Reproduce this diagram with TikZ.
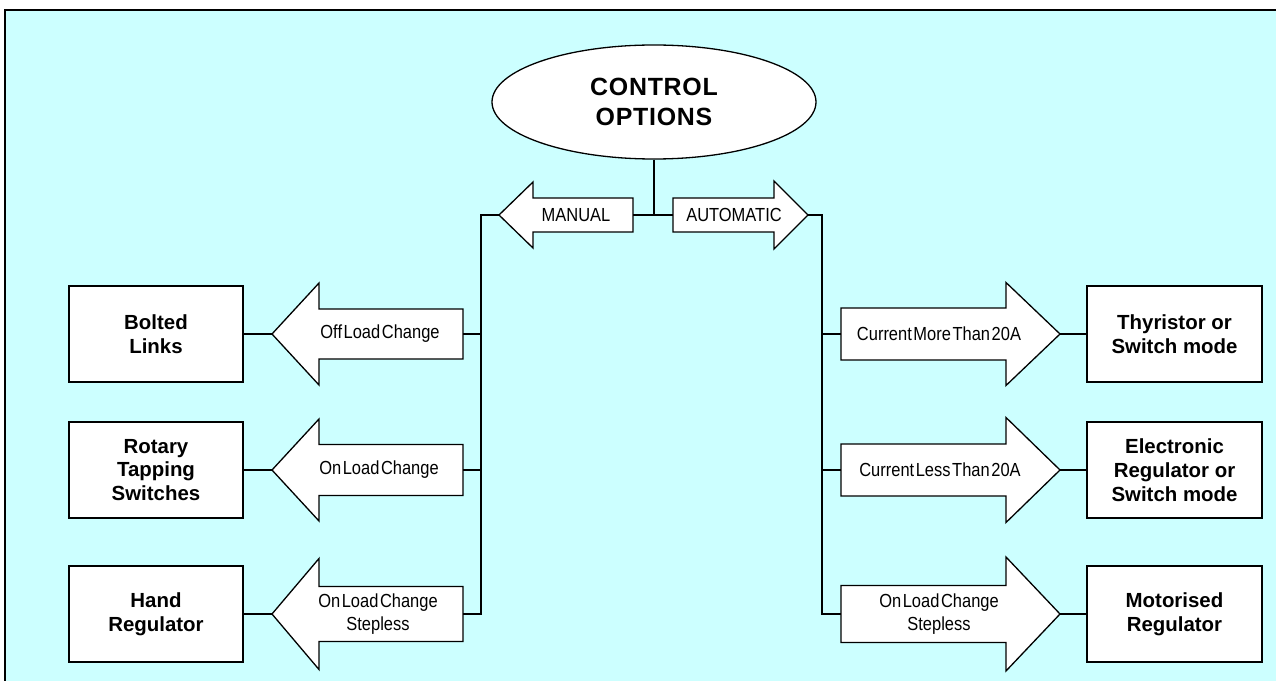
\documentclass[tikz,border=0pt]{standalone}
\usepackage{fontspec}
\setmainfont{Liberation Sans}
\newfontfamily\lblfont[WordSpace=0.35, FakeStretch=0.87]{Liberation Sans}
\newfontfamily\ttlfont[LetterSpace=3]{Liberation Sans}
\usetikzlibrary{shapes.geometric}

\definecolor{panel}{RGB}{204,255,255}

\tikzset{
  line/.style={draw=black, line width=1.3bp},
  box/.style={draw=black, line width=1.3bp, fill=white, minimum height=96bp,
    align=center, inner sep=0pt, font=\fontsize{20.5}{24}\selectfont\bfseries},
  arrowshape/.style={draw=black, line width=1.3bp, fill=white, line join=miter},
  lbl/.style={align=center, inner sep=0pt, font=\lblfont\fontsize{19}{23}\selectfont},
  title/.style={ellipse, draw=black, line width=1.3bp, fill=white,
    minimum width=324bp, minimum height=114bp, inner sep=0pt, align=center,
    font=\ttlfont\fontsize{25}{30}\selectfont\bfseries},
}

% Block arrow: #1 name, #2 tip x, #3 head back x, #4 tail x, #5 y,
% #6 half shaft height, #7 half head height
\newcommand\BlockArrow[7]{%
  \draw[arrowshape] (#2,#5) -- (#3,#5-#7) -- (#3,#5-#6) -- (#4,#5-#6)
    -- (#4,#5+#6) -- (#3,#5+#6) -- (#3,#5+#7) -- cycle;
  \coordinate (#1-tip) at (#2,#5);
  \coordinate (#1-end) at (#4,#5);
}

\begin{document}
\begin{tikzpicture}[x=1bp, y=-1bp]
  \useasboundingbox (0,0) rectangle (1276,681);
  \fill[white] (0,0) rectangle (1276,681);
  \fill[panel] (5,10) rectangle (1276,681);
  \draw[black, line width=2bp] (5,681) -- (5,10) -- (1276,10);

  % title
  \node[title] (ctrl) at (654,102) {CONTROL\\OPTIONS};

  % manual / automatic arrows
  \BlockArrow{man}{499}{533}{633}{215}{17}{33}
  \BlockArrow{auto}{808}{774}{673}{215}{17}{34}
  \node[lbl] (manl) at (576,215) {MANUAL};
  \node[lbl] (autol) at (734,215) {AUTOMATIC};

  \coordinate (hub) at (654,215);
  \coordinate (lbus) at (481,215);
  \coordinate (rbus) at (822,215);

  % manual branch arrows
  \BlockArrow{a1}{272}{319}{463}{334}{25}{51}
  \BlockArrow{a2}{272}{319}{463}{470}{25.5}{51}
  \BlockArrow{a3}{272}{319}{463}{614}{27.5}{55.5}
  \node[lbl] (a1l) at (380,334) {Off Load Change};
  \node[lbl] (a2l) at (379,470) {On Load Change};
  \node[lbl] (a3l) at (378,614) {On Load Change\\Stepless};

  % automatic branch arrows
  \BlockArrow{b1}{1060}{1006}{841}{334}{26}{51.5}
  \BlockArrow{b2}{1060}{1006}{841}{470}{26}{52.5}
  \BlockArrow{b3}{1060}{1006}{841}{614}{28.5}{57}
  \node[lbl] (b1l) at (939,334) {Current More Than 20A};
  \node[lbl] (b2l) at (940,470) {Current Less Than 20A};
  \node[lbl] (b3l) at (939,614) {On Load Change\\Stepless};

  % result boxes
  \node[box, minimum width=174bp] (bolted) at (156,334) {Bolted\\Links};
  \node[box, minimum width=174bp] (rotary) at (156,470) {Rotary\\Tapping\\Switches};
  \node[box, minimum width=174bp] (hand) at (156,614) {Hand\\Regulator};
  \node[box, minimum width=175bp] (thy) at (1174.5,334) {Thyristor or\\Switch mode};
  \node[box, minimum width=175bp] (elec) at (1174.5,470) {Electronic\\Regulator or\\Switch mode};
  \node[box, minimum width=175bp] (motor) at (1174.5,614) {Motorised\\Regulator};

  % connectors
  \draw[line] (ctrl.south) -- (hub);
  \draw[line] (man-end) -- (auto-end);
  \draw[line] (man-tip) -- (lbus) |- (a3-end);
  \draw[line] (a1-end) -- (a1-end -| lbus);
  \draw[line] (a2-end) -- (a2-end -| lbus);
  \draw[line] (auto-tip) -- (rbus) |- (b3-end);
  \draw[line] (b1-end) -- (b1-end -| rbus);
  \draw[line] (b2-end) -- (b2-end -| rbus);
  \draw[line] (bolted.east) -- (a1-tip);
  \draw[line] (rotary.east) -- (a2-tip);
  \draw[line] (hand.east) -- (a3-tip);
  \draw[line] (b1-tip) -- (thy.west);
  \draw[line] (b2-tip) -- (elec.west);
  \draw[line] (b3-tip) -- (motor.west);
\end{tikzpicture}
\end{document}
